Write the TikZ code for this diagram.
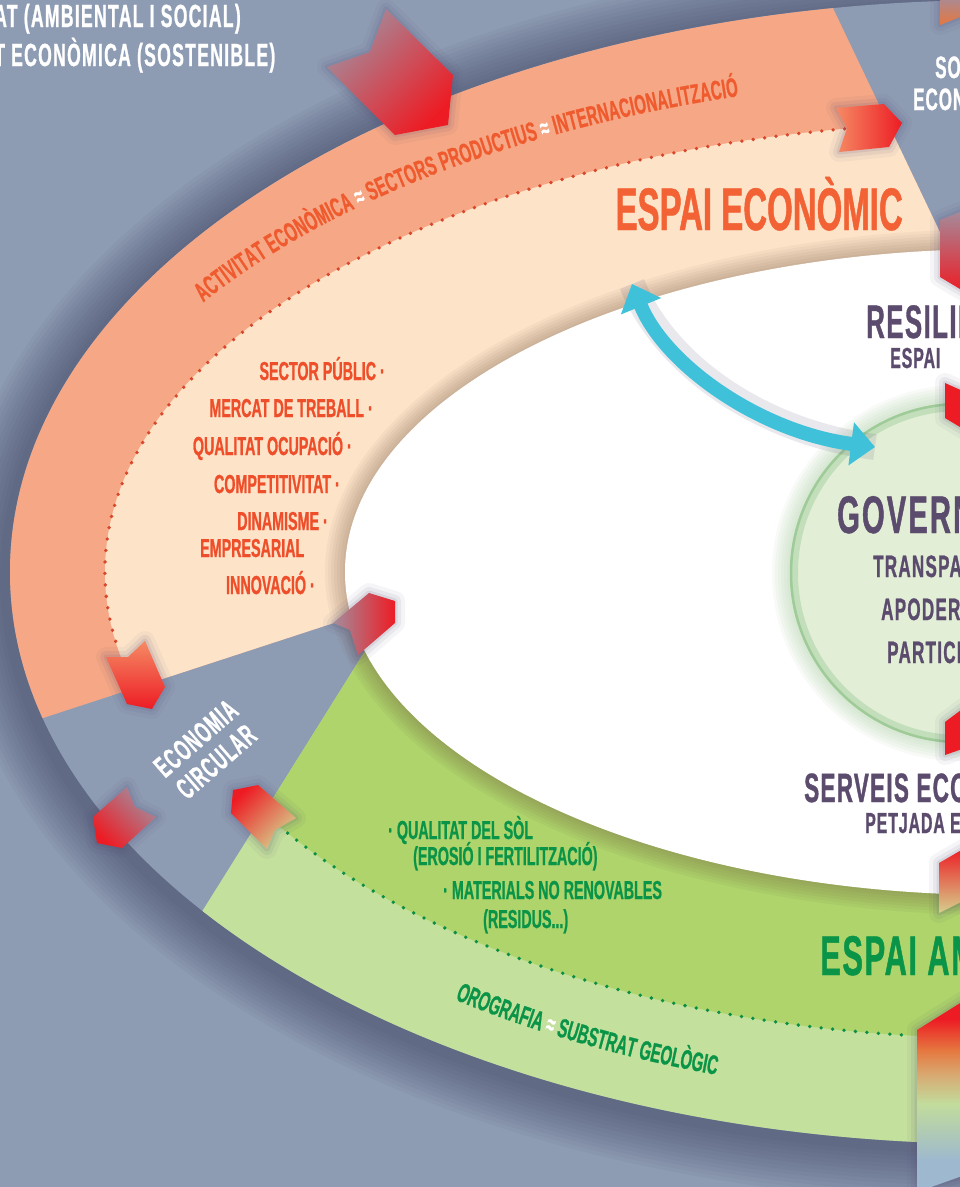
\documentclass[tikz,border=0pt]{standalone}
\usepackage{fontspec}
\usetikzlibrary{arrows.meta,decorations.text}
\newfontfamily\bebas{Liberation Sans Bold}[FakeStretch=0.55, FakeBold=0.8]
\newcommand\fsz[1]{\fontsize{#1}{#1}\selectfont}
\newcommand\wide[1]{\addfontfeature{LetterSpace=#1}}
\definecolor{bgc}{HTML}{8E9CB3}
\definecolor{shadc}{HTML}{3E3F60}
\definecolor{salm}{HTML}{F6A886}
\definecolor{peach}{HTML}{FDE4C9}
\definecolor{lgreen}{HTML}{C4E09D}
\definecolor{dgreen}{HTML}{AED46B}
\definecolor{inshad}{HTML}{6A4A3A}
\definecolor{dotor}{HTML}{D9472B}
\definecolor{dotgr}{HTML}{0A8F45}
\definecolor{ecotxt}{HTML}{EF5A2E}
\definecolor{econbig}{HTML}{F26234}
\definecolor{listtxt}{HTML}{EE4E2A}
\definecolor{purp}{HTML}{5B4B6D}
\definecolor{greentxt}{HTML}{0A9447}
\definecolor{cyanc}{HTML}{40C1DA}
\definecolor{redc}{HTML}{ED1C24}
\definecolor{circf}{HTML}{E2EFD6}
\definecolor{govedge}{HTML}{9ECB98}
\definecolor{glowc}{HTML}{4E4470}
\definecolor{mauve}{HTML}{A48C9C}
\definecolor{salmtip}{HTML}{F58A64}
\definecolor{paley}{HTML}{D6CF8C}
\definecolor{ribblue}{HTML}{9DB8CF}
\definecolor{ribgreen}{HTML}{C2DC9C}
\definecolor{ribtan}{HTML}{D9A66E}
\definecolor{riborange}{HTML}{E5773F}
\pgfdeclareverticalshading{ribbon}{100bp}{color(0bp)=(ribblue); color(33bp)=(ribblue); color(48bp)=(ribgreen); color(56bp)=(ribtan); color(62bp)=(riborange); color(70bp)=(redc); color(100bp)=(redc)}
\newcommand\bandeco{\bebas\fsz{27}\color{ecotxt}}
\newcommand\bandecw{\bebas\fsz{27}\color{white}}
\newcommand\bandgeo{\bebas\fsz{27}\color{greentxt}}
\newcommand\bandwht{\bebas\fsz{27}\color{white}}

\begin{document}
\begin{tikzpicture}[x=1pt, y=-1pt,
  lbl/.style={inner sep=0pt},
  tip/.style={preaction={draw=glowc, line width=20pt, opacity=.05, line join=round},
              preaction={draw=glowc, line width=12pt, opacity=.08, line join=round},
              preaction={draw=glowc, line width=5pt, opacity=.10, line join=round}},
  dots/.style={line width=3.8pt, line cap=round, dash pattern=on 0pt off 11.5pt}]
\useasboundingbox (0,0) rectangle (960,1187);
\clip (0,0) rectangle (960,1187);
\fill[bgc] (0,0) rectangle (960,1187);
\coordinate (C) at (1000,572);
% shadow round the ring
\foreach \d in {52,48,...,4}
  \fill[shadc, opacity=.05] (994,578) ellipse[x radius={(990+\d)*1pt}, y radius={(572+\d)*1pt}];
\fill[bgc] (C) ellipse[x radius=990pt, y radius=572pt];
% economic sector
\begin{scope}
  \clip (-100,-100) -- (810,-40) -- (1040,442) -- (667,514) -- (-113,769) -- cycle;
  \fill[salm] (C) ellipse[x radius=990pt, y radius=572pt];
  \fill[peach] (C) ellipse[x radius=895pt, y radius=450pt];
\end{scope}
% environmental sector
\begin{scope}
  \clip (121,1041) -- (449,517) -- (1000,540) -- (1100,540) -- (1100,1300) -- (121,1300) -- cycle;
  \fill[lgreen] (C) ellipse[x radius=990pt, y radius=572pt];
  \fill[dgreen] (C) ellipse[x radius=860pt, y radius=466pt];
\end{scope}
\foreach \d in {20,17,...,2}
  \fill[inshad, opacity=.05] (C) ellipse[x radius={(655+\d)*1pt}, y radius={(323+\d)*1pt}];
\fill[white] (C) ellipse[x radius=655pt, y radius=323pt];
\draw[dots, dotor] (844.6,128.8) arc[start angle=100, end angle=190, x radius=895pt, y radius=450pt];
\draw[dots, dotgr] (278.7,825.8) arc[start angle=213, end angle=264, x radius=860pt, y radius=466pt];

% curved band texts
\path[decorate, decoration={text along path, text align=fit to path,
  text={|\bandeco|ACTIVITAT ECONÒMICA |\bandecw|≈|\bandeco| SECTORS PRODUCTIUS |\bandecw|≈|\bandeco| INTERNACIONALITZACIÓ}}]
  (203.2,302.4) arc[start angle=147, end angle=106, x radius=950pt, y radius=495pt];
\path[decorate, decoration={text along path, text align=fit to path,
  text={|\bandgeo|OROGRAFIA |\bandwht|≈|\bandgeo| SUBSTRAT GEOLÒGIC}}]
  (455,999.7) arc[start angle=234.1, end angle=252.2, x radius=930pt, y radius=528pt];

% government circle
\coordinate (gov) at (960,573);
\foreach \d in {18,15,...,1}
  \fill[govedge, opacity=.08] (gov) circle[radius={(170+\d)*1pt}];
\fill[circf] (gov) circle[radius=170pt];
\draw[govedge, opacity=.45, line width=8pt] (gov) circle[radius=166pt];
\draw[govedge, line width=2.5pt] (gov) circle[radius=169pt];

% cyan link
\coordinate (bluA) at (632,284);
\coordinate (bluB) at (875,447);
\draw[glowc, opacity=.12, line width=26pt] (bluA) .. controls (665,365) and (760,432) .. (bluB);
\draw[cyanc, line width=14pt, {Triangle[width=42pt,length=24pt]}-{Triangle[width=42pt,length=24pt]}]
  (bluA) .. controls (665,365) and (760,432) .. (bluB);

% gradient arrows
\shade[tip, top color=mauve, bottom color=redc, shading angle=45]
  (386,9) -- (370,52) -- (327,67) -- (395,135) -- (448,125) -- (453,75) -- cycle;
\shade[tip, left color=salmtip, right color=redc]
  (836,108) -- (884,104) -- (902,123) -- (889,147) -- (839,152) -- (847,128) -- cycle;
\shade[tip, top color=mauve, bottom color=riborange]
  (940,-5) -- (965,-5) -- (965,15) -- (940,25) -- cycle;
\shade[tip, top color=mauve, bottom color=redc]
  (940,220) -- (965,210) -- (965,292) -- (940,277) -- cycle;
\fill[tip, redc] (945,383) -- (965,392) -- (965,430) -- (945,418) -- cycle;
\fill[tip, redc] (945,722) -- (965,707) -- (965,748) -- (945,755) -- cycle;
\shade[tip, top color=redc, bottom color=paley]
  (939,863) -- (965,848) -- (965,900) -- (939,913) -- cycle;
\shade[tip, shading=ribbon] (917,1030) -- (965,1000) -- (965,1175) -- (917,1192) -- cycle;
\shade[tip, top color=salmtip, bottom color=redc]
  (106,657) -- (128,657) -- (145,641) -- (165,687) -- (152,709) -- (127,704) -- cycle;
\shade[tip, left color=mauve, right color=redc]
  (333,623) -- (369,593) -- (395,601) -- (395,623) -- (358,655) -- (350,630) -- cycle;
\shade[tip, top color=mauve, bottom color=redc, shading angle=-45]
  (93,817) -- (127,787) -- (135,807) -- (156,817) -- (122,848) -- (97,843) -- cycle;
\shade[tip, top color=redc, bottom color=paley, shading angle=45]
  (233,790) -- (258,785) -- (296,818) -- (275,830) -- (267,849) -- (231,813) -- cycle;

% titles at the edges
\node[lbl, text=white, font=\bebas\wide{4}\fsz{32}, anchor=base west] (socl) at (-6,27) {AT (AMBIENTAL I SOCIAL)};
\node[lbl, text=white, font=\bebas\wide{4}\fsz{32}, anchor=base west] (ecol) at (-6,66) {T ECONÒMICA (SOSTENIBLE)};
\node[lbl, text=white, font=\bebas\wide{3}\fsz{31}, anchor=base west] (sost) at (935,78) {SOS};
\node[lbl, text=white, font=\bebas\wide{3}\fsz{31}, anchor=base west] (econ) at (913,110) {ECONÒ};
\node[lbl, text=econbig, font=\bebas\fsz{60}, anchor=base east] (especo) at (903,230) {ESPAI ECONÒMIC};
\node[lbl, text=purp, font=\bebas\wide{3}\fsz{47}, anchor=base west] (resil) at (866,338) {RESILIÈ};
\node[lbl, text=purp, font=\bebas\wide{3}\fsz{29}, anchor=base west] (respai) at (890,368) {ESPAI};
\node[lbl, text=purp, font=\bebas\wide{4}\fsz{53}, anchor=base west] (gover) at (837,533) {GOVERN};
\node[lbl, text=purp, font=\bebas\wide{4}\fsz{31}, anchor=base west] (transp) at (873,577) {TRANSPAR};
\node[lbl, text=purp, font=\bebas\wide{4}\fsz{31}, anchor=base west] (apoder) at (881,620) {APODERA};
\node[lbl, text=purp, font=\bebas\wide{4}\fsz{31}, anchor=base west] (partic) at (887,663) {PARTICI};
\node[lbl, text=purp, font=\bebas\wide{3}\fsz{41}, anchor=base west] (serveis) at (804,802) {SERVEIS ECOS};
\node[lbl, text=purp, font=\bebas\wide{3}\fsz{29}, anchor=base west] (petjada) at (865,833) {PETJADA EC};
\node[lbl, text=greentxt, font=\bebas\wide{3}\fsz{56}, anchor=base west] (espamb) at (820,975) {ESPAI AM};

% economic list
\node[lbl, text=listtxt, font=\bebas\fsz{26}, anchor=base east] (spub) at (385,380) {SECTOR PÚBLIC ·};
\node[lbl, text=listtxt, font=\bebas\fsz{26}, anchor=base east] (merc) at (373,417) {MERCAT DE TREBALL ·};
\node[lbl, text=listtxt, font=\bebas\fsz{26}, anchor=base east] (qocu) at (352,455) {QUALITAT OCUPACIÓ ·};
\node[lbl, text=listtxt, font=\bebas\fsz{26}, anchor=base east] (comp) at (340,493) {COMPETITIVITAT ·};
\node[lbl, text=listtxt, font=\bebas\fsz{26}, anchor=base east] (dina) at (328,530) {DINAMISME ·};
\node[lbl, text=listtxt, font=\bebas\fsz{26}, anchor=base west] (empr) at (200,557) {EMPRESARIAL};
\node[lbl, text=listtxt, font=\bebas\fsz{26}, anchor=base east] (inno) at (315,594) {INNOVACIÓ ·};

% environmental list
\node[lbl, text=greentxt, font=\bebas\fsz{26}, anchor=base west] (qsol) at (388,839) {· QUALITAT DEL SÒL};
\node[lbl, text=greentxt, font=\bebas\fsz{26}, anchor=base west] (eros) at (413,865) {(EROSIÓ I FERTILITZACIÓ)};
\node[lbl, text=greentxt, font=\bebas\fsz{26}, anchor=base west] (mate) at (443,899) {· MATERIALS NO RENOVABLES};
\node[lbl, text=greentxt, font=\bebas\fsz{26}, anchor=base west] (resi) at (483,928) {(RESIDUS...)};

\node[lbl, text=white, font=\bebas\wide{4}\fontsize{30}{31}\selectfont, rotate=41, align=center] (circ) at (206,750) {ECONOMIA\\CIRCULAR};
\end{tikzpicture}
\end{document}
